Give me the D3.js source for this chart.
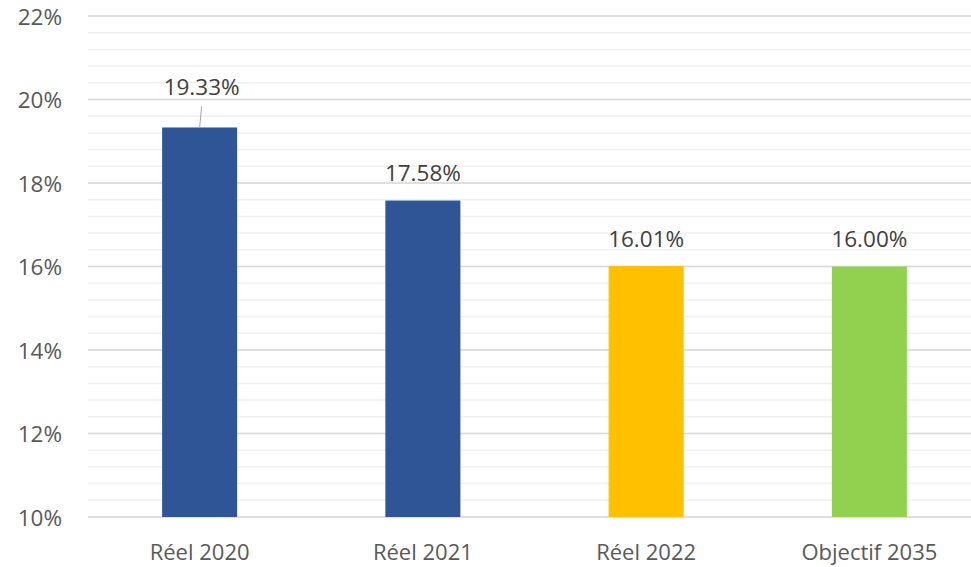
<!DOCTYPE html>
<html><head><meta charset="utf-8">
<script src="https://cdn.jsdelivr.net/npm/d3@7"></script>
<style>html,body{margin:0;padding:0;background:#fff;overflow:hidden}</style>
</head><body>
<svg id="c" width="971" height="567"></svg>
<script>
const categories = ["Réel 2020", "Réel 2021", "Réel 2022", "Objectif 2035"];
const values = [19.33, 17.58, 16.01, 16.00];
const barColors = ["#2F5597", "#2F5597", "#FFC000", "#92D050"];
const yTicks = [10, 12, 14, 16, 18, 20, 22];
const yMinorTicks = d3.range(10, 22.001, 0.4);

(function () {
const svg = d3.select("#c");
const font = "'Open Sans', sans-serif";
const mLeft = 88, mRight = 981, mTop = 16, mBottom = 517;

const x = d3.scaleBand().domain(categories).range([mLeft, mRight]).paddingInner(0.664).paddingOuter(0.332);
const y = d3.scaleLinear().domain([10, 22]).range([mBottom, mTop]);

const grid = svg.append("g");
grid.selectAll("line.minor").data(yMinorTicks).join("line").attr("class", "minor")
  .attr("x1", mLeft).attr("x2", 971)
  .attr("y1", d => y(d)).attr("y2", d => y(d))
  .attr("stroke", "#f0f0f0").attr("stroke-width", 1.5);
grid.selectAll("line.major").data(yTicks).join("line").attr("class", "major")
  .attr("x1", mLeft).attr("x2", 971)
  .attr("y1", d => y(d)).attr("y2", d => y(d))
  .attr("stroke", "#d9d9d9").attr("stroke-width", 1.5);

const yAxis = svg.append("g").attr("transform", `translate(62,0)`)
  .call(d3.axisLeft(y).tickValues(yTicks).tickSize(0).tickPadding(0).tickFormat(d => d + "%"));
yAxis.select(".domain").remove();
yAxis.selectAll("text").attr("font-family", font).attr("font-size", 22.5).attr("fill", "#595959").attr("dy", "0.36em");

svg.selectAll("rect.bar").data(values).join("rect").attr("class", "bar")
  .attr("x", (d, i) => x(categories[i]))
  .attr("width", x.bandwidth())
  .attr("y", d => y(d))
  .attr("height", d => y(10) - y(d))
  .attr("fill", (d, i) => barColors[i]);

const xAxis = svg.append("g").attr("transform", `translate(0,${mBottom})`)
  .call(d3.axisBottom(x).tickSize(0).tickPadding(0));
xAxis.select(".domain").remove();
xAxis.selectAll("text").attr("font-family", font).attr("font-size", 22).attr("fill", "#595959").attr("dy", "0").attr("y", 43);

const labelShift = [13, 0, 0, 0];
svg.selectAll("text.lbl").data(values).join("text").attr("class", "lbl")
  .attr("x", (d, i) => x(categories[i]) + x.bandwidth() / 2 + (i === 0 ? 2 : 0))
  .attr("y", (d, i) => y(d) - 19.5 - labelShift[i])
  .attr("text-anchor", "middle")
  .attr("font-family", font).attr("font-size", 22.5).attr("fill", "#404040")
  .text(d => d.toFixed(2) + "%");

svg.append("line")
  .attr("x1", x(categories[0]) + x.bandwidth() / 2 + 2).attr("y1", y(values[0]) - 21)
  .attr("x2", x(categories[0]) + x.bandwidth() / 2).attr("y2", y(values[0]))
  .attr("stroke", "#a6a6a6").attr("stroke-width", 1);
})();
</script>
</body></html>
